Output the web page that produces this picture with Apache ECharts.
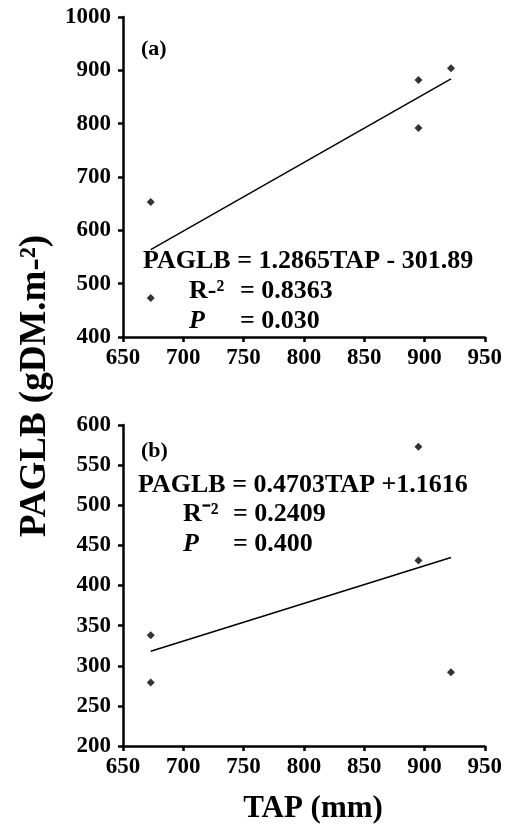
<!DOCTYPE html>
<html>
<head>
<meta charset="utf-8">
<script src="https://cdn.jsdelivr.net/npm/echarts@6/dist/echarts.min.js"></script>
<style>
  html, body { margin: 0; padding: 0; background: #fff; }
  #chart { width: 505px; height: 828px; }
</style>
</head>
<body>
<div id="chart"></div>
<script>
// data
var tapA = [673, 673, 895, 895, 922]
var paglbA = [653, 473, 882, 792, 904]
var fitA = [[673, 564], [922, 884]]

var tapB = [673, 673, 895, 895, 922]
var paglbB = [338, 279, 573, 431, 292]
var fitB = [[673, 318], [922, 435]]

var font = 'Liberation Serif'

function axisX() {
  return {
    type: 'value', min: 650, max: 950, interval: 50,
    axisLine: { show: true, lineStyle: { color: '#000', width: 2.5 } },
    axisTick: { show: true, inside: false, length: 5, lineStyle: { color: '#000', width: 2.5 } },
    axisLabel: {
      color: '#000', fontFamily: font, fontWeight: 'bold', fontSize: 23, margin: 10,
      formatter: function (v) { return String(v) }
    },
    splitLine: { show: false }
  }
}
function axisY(min, max, step) {
  return {
    type: 'value', min: min, max: max, interval: step,
    axisLine: { show: true, lineStyle: { color: '#000', width: 2.5 } },
    axisTick: { show: true, inside: false, length: 5, lineStyle: { color: '#000', width: 2.5 } },
    axisLabel: {
      color: '#000', fontFamily: font, fontWeight: 'bold', fontSize: 23, margin: 12,
      formatter: function (v) { return String(v) }
    },
    splitLine: { show: false }
  }
}
function pairs(xs, ys) {
  return xs.map(function (x, i) { return [x, ys[i]] })
}

function txt(x, y, s, size, italic) {
  return {
    type: 'text', left: x, top: y,
    style: { text: s, fill: '#000', font: (italic ? 'italic ' : '') + 'bold ' + size + 'px "' + font + '"' }
  }
}

var myChart = echarts.init(document.getElementById('chart'))
var option = {
  animation: false,
  grid: [
    { left: 123, top: 17, width: 365, height: 320 },
    { left: 123, top: 425, width: 367, height: 321 }
  ],
  xAxis: [
    Object.assign(axisX(), { gridIndex: 0 }),
    Object.assign(axisX(), { gridIndex: 1 })
  ],
  yAxis: [
    Object.assign(axisY(400, 1000, 100), { gridIndex: 0 }),
    Object.assign(axisY(200, 600, 50), { gridIndex: 1 })
  ],
  series: [
    {
      type: 'scatter', xAxisIndex: 0, yAxisIndex: 0, symbol: 'diamond', symbolSize: 8,
      itemStyle: { color: '#000' }, data: pairs(tapA, paglbA)
    },
    {
      type: 'line', xAxisIndex: 0, yAxisIndex: 0, symbol: 'none',
      lineStyle: { color: '#000', width: 1.5 }, data: fitA
    },
    {
      type: 'scatter', xAxisIndex: 1, yAxisIndex: 1, symbol: 'diamond', symbolSize: 8,
      itemStyle: { color: '#000' }, data: pairs(tapB, paglbB)
    },
    {
      type: 'line', xAxisIndex: 1, yAxisIndex: 1, symbol: 'none',
      lineStyle: { color: '#000', width: 1.5 }, data: fitB
    }
  ],
  graphic: [
    // panel (a)
    txt(141, 38, '(a)', 22),
    txt(143, 248, 'PAGLB = 1.2865TAP - 301.89', 26),
    txt(189, 278, 'R-²', 26),
    txt(240, 278, '= 0.8363', 26),
    txt(189, 308, 'P', 26, true),
    txt(240, 308, '= 0.030', 26),
    // panel (b)
    txt(141, 440, '(b)', 22),
    txt(138, 472, 'PAGLB = 0.4703TAP +1.1616', 26),
    txt(183, 501, 'R⁻²', 26),
    txt(233, 501, '= 0.2409', 26),
    txt(183, 531, 'P', 26, true),
    txt(233, 531, '= 0.400', 26),
    // axis titles
    {
      type: 'text', x: 313, y: 809,
      style: { text: 'TAP (mm)', fill: '#000', font: 'bold 31px "' + font + '"', align: 'center', verticalAlign: 'middle' }
    },
    {
      type: 'text', x: 35, y: 386, rotation: Math.PI / 2,
      style: { text: 'PAGLB (gDM.m-²)', fill: '#000', font: 'bold 37px "' + font + '"', align: 'center', verticalAlign: 'middle' }
    }
  ]
}
myChart.setOption(option)
</script>
</body>
</html>
